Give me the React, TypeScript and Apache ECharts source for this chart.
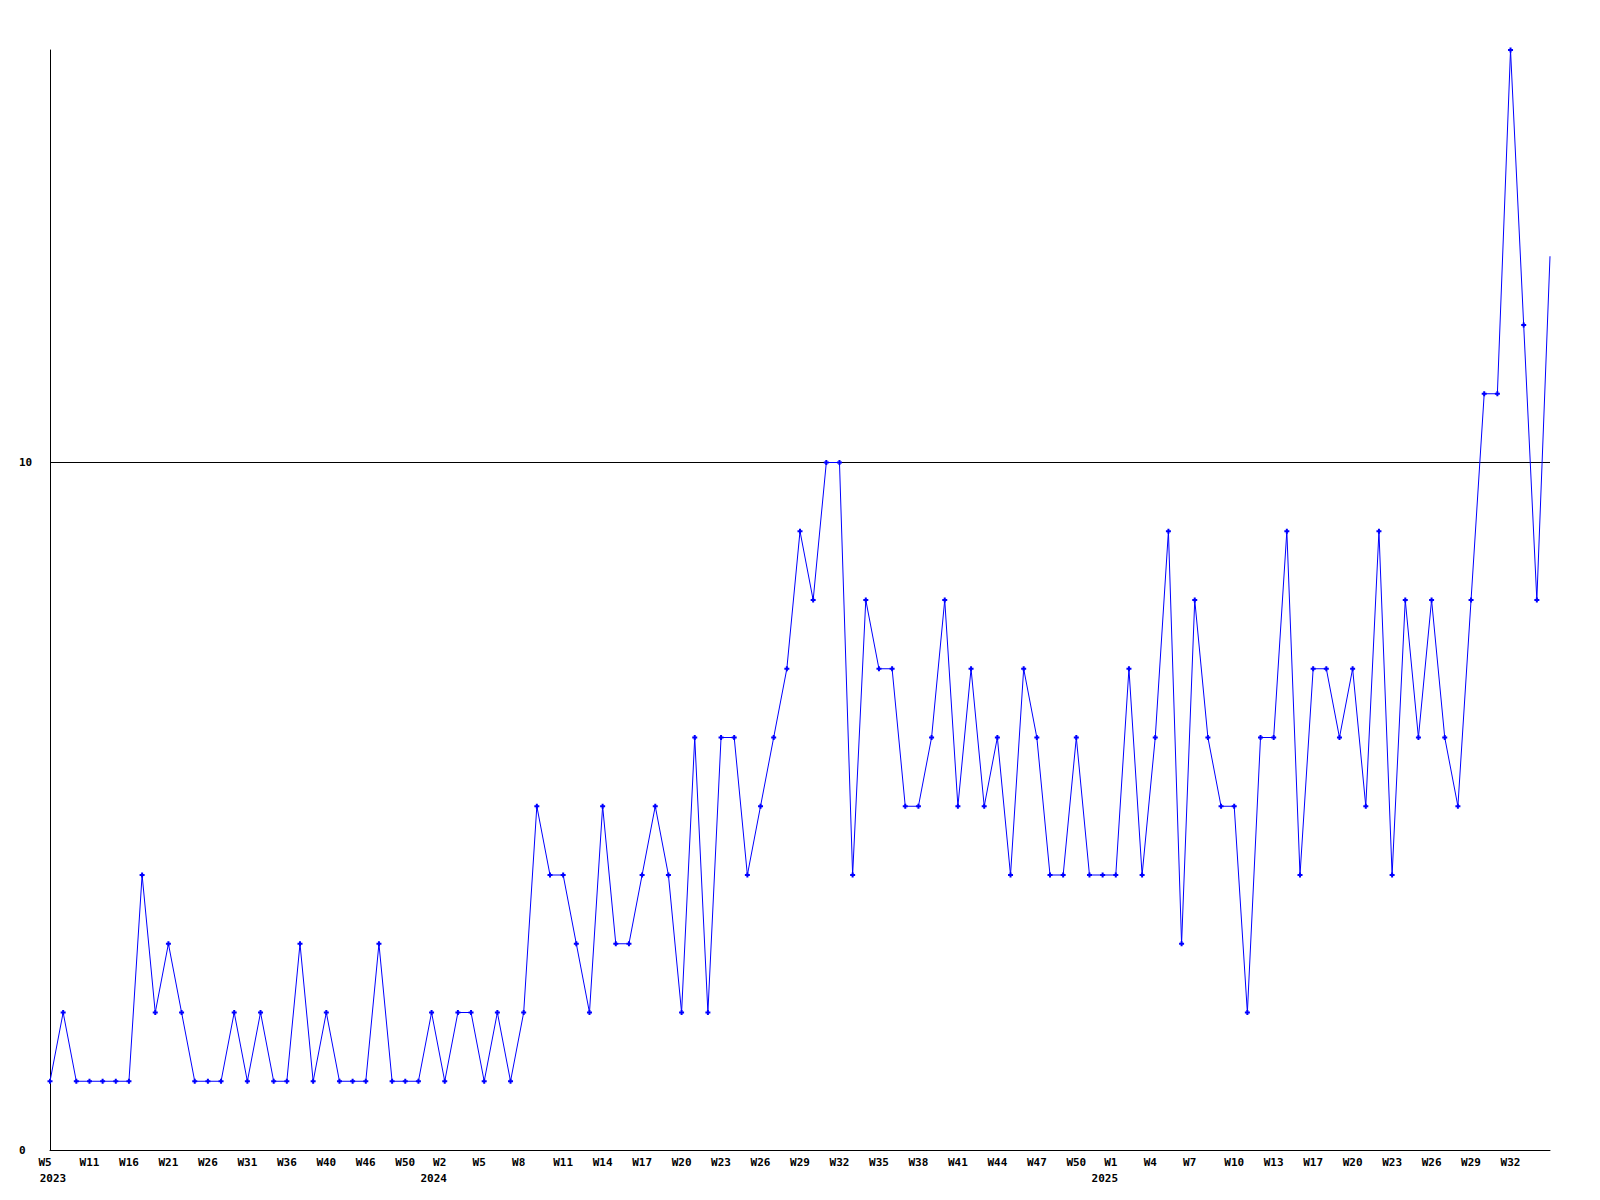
import React, { useEffect, useRef } from "react";
import * as echarts from "echarts";

// Week categories (only weeks with data, one point each)
const weekLabels: string[] = [
  // 2023
  "W5", "W7", "W9", "W11", "W13", "W14", "W16", "W17", "W19", "W21",
  "W22", "W24", "W26", "W28", "W29", "W31", "W33", "W34", "W36", "W37",
  "W38", "W40", "W42", "W44", "W46", "W47", "W48", "W50", "W51", "W52",
  // 2024
  "W2", "W3", "W4", "W5", "W6", "W7", "W8", "W9", "W10", "W11",
  "W12", "W13", "W14", "W15", "W16", "W17", "W18", "W19", "W20", "W21",
  "W22", "W23", "W24", "W25", "W26", "W27", "W28", "W29", "W30", "W31",
  "W32", "W33", "W34", "W35", "W36", "W37", "W38", "W39", "W40", "W41",
  "W42", "W43", "W44", "W45", "W46", "W47", "W48", "W49", "W50", "W51",
  "W52",
  // 2025
  "W1", "W2", "W3", "W4", "W5", "W6", "W7", "W8", "W9", "W10",
  "W11", "W12", "W13", "W14", "W16", "W17", "W18", "W19", "W20", "W21",
  "W22", "W23", "W24", "W25", "W26", "W27", "W28", "W29", "W30", "W31",
  "W32", "W33", "W34", "W35",
];

const yearStartIndex: number[] = [0, 30, 81];
const yearNames: string[] = ["2023", "2024", "2025"];

const counts: number[] = [
  1, 2, 1, 1, 1, 1, 1, 4, 2, 3,
  2, 1, 1, 1, 2, 1, 2, 1, 1, 3,
  1, 2, 1, 1, 1, 3, 1, 1, 1, 2,
  1, 2, 2, 1, 2, 1, 2, 5, 4, 4,
  3, 2, 5, 3, 3, 4, 5, 4, 2, 6,
  2, 6, 6, 4, 5, 6, 7, 9, 8, 10,
  10, 4, 8, 7, 7, 5, 5, 6, 8, 5,
  7, 5, 6, 4, 7, 6, 4, 4, 6, 4,
  4, 4, 7, 4, 6, 9, 3, 8, 6, 5,
  5, 2, 6, 6, 9, 4, 7, 7, 6, 7,
  5, 9, 4, 8, 6, 8, 6, 5, 8, 11,
  11, 16, 12, 8, 13,
];

const yMin = 0;
const yMax = 16;
const yInterval = 10;
const labelEvery = 3;

const FONT = "'DejaVu Sans Mono', 'Liberation Mono', monospace";
const txt = { fontFamily: FONT, fontSize: 11, fontWeight: "bold" as const, color: "#000", lineHeight: 16 };

export default function App() {
  const ref = useRef<HTMLDivElement>(null);

  useEffect(() => {
    if (!ref.current) return;
    const chart = echarts.init(ref.current, null, { renderer: "svg" });
    const lastIdx = counts.length - 1;
    const seriesData = counts.map((v, i) =>
      i === lastIdx ? { value: v, symbol: "none" } : v
    );

    chart.setOption({
      animation: false,
      backgroundColor: "#fff",
      grid: { left: 50, right: 50, top: 50, bottom: 50, containLabel: false },
      xAxis: {
        type: "category",
        data: weekLabels,
        boundaryGap: false,
        axisLine: { show: true, lineStyle: { color: "#000", width: 1 } },
        axisTick: { show: false },
        splitLine: { show: false },
        axisLabel: {
          interval: (index: number) => index % labelEvery === 0 && index < lastIdx,
          margin: 4,
          ...txt,
          formatter: (value: string, index: number) => {
            const wk = value.length <= 2 ? `{w2|${value}}` : `{w3|${value}}`;
            const yi = yearStartIndex.indexOf(index);
            if (yi >= 0) {
              return wk + "\n" + (index === 0 ? `{y0|${yearNames[yi]}}` : `{y|${yearNames[yi]}}`);
            }
            return wk;
          },
          rich: {
            w3: { ...txt },
            w2: { ...txt, padding: [0, 10, 0, 0] },
            y: { ...txt, padding: [0, 22, 0, 0] },
            y0: { ...txt, padding: [0, 0, 0, 6] },
          },
        },
      },
      yAxis: {
        type: "value",
        min: yMin,
        max: yMax,
        interval: yInterval,
        axisLine: { show: true, lineStyle: { color: "#000", width: 1 } },
        axisTick: { show: false },
        splitLine: { show: true, showMaxLine: false, lineStyle: { color: "#000", width: 1 } },
        axisLabel: {
          ...txt,
          align: "left",
          margin: 31,
          showMaxLabel: false,
        },
      },
      series: [
        {
          type: "line",
          data: seriesData,
          symbol: "path://M1.5,0H3.5V1.5H5V3.5H3.5V5H1.5V3.5H0V1.5H1.5Z",
          symbolSize: 5,
          showAllSymbol: true,
          lineStyle: { color: "#0000ff", width: 1 },
          itemStyle: { color: "#0000ff" },
          emphasis: { disabled: true },
        },
      ],
    });

    return () => chart.dispose();
  }, []);

  return (
    <div
      ref={ref}
      style={{ position: "absolute", left: 0, top: 0, width: 1600, height: 1200, background: "#fff" }}
    />
  );
}
